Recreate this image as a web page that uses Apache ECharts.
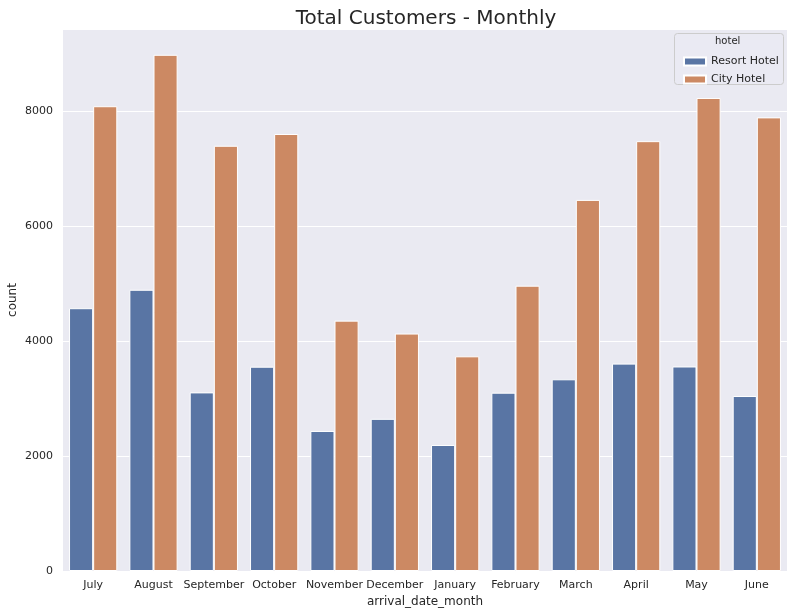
<!DOCTYPE html>
<html>
<head>
<meta charset="utf-8">
<script src="https://cdn.jsdelivr.net/npm/echarts@6/dist/echarts.min.js"></script>
<style>html,body{margin:0;padding:0;background:#fff}#c{width:794px;height:615px}</style>
</head>
<body>
<div id="c"></div>
<script>
var months = ["July","August","September","October","November","December","January","February","March","April","May","June"];
var resortHotel = [4573,4894,3108,3555,2437,2648,2193,3103,3336,3609,3559,3045];
var cityHotel = [8088,8983,7400,7605,4357,4132,3736,4965,6458,7480,8232,7894];
var yTicks = [0,2000,4000,6000,8000];

var chart = echarts.init(document.getElementById('c'), null, {renderer:'canvas'});
var font = 'DejaVu Sans';
chart.setOption({
  animation:false,
  backgroundColor:'#ffffff',
  title:{text:'Total Customers - Monthly', left:421, textAlign:'center', top:4,
    textStyle:{fontFamily:font, fontSize:20, fontWeight:'normal', color:'#262626'}},
  grid:{left:63, right:7, top:29, bottom:44, show:true, backgroundColor:'#eaeaf2', borderWidth:0,
    containLabel:false, outerBoundsMode:'none'},
  legend:{orient:'vertical', left:678, top:51, itemWidth:22, itemHeight:8, itemGap:7,
    icon:'rect', data:['Resort Hotel','City Hotel'],
    textStyle:{fontFamily:font, fontSize:11, color:'#262626'}},
  graphic:[
    {type:'rect', left:674, top:33, z:0, shape:{width:109, height:51, r:3},
     style:{fill:'rgba(234,234,242,0.8)', stroke:'#cccccc', lineWidth:1}},
    {type:'text', left:715, top:36, z:1, style:{text:'hotel', font:'10px DejaVu Sans', fill:'#262626'}},
    {type:'text', x:13, y:300, rotation:Math.PI/2, z:1,
     style:{text:'count', font:'12px DejaVu Sans', fill:'#262626', align:'center', verticalAlign:'middle'}}
  ],
  xAxis:{type:'category', data:months, name:'arrival_date_month', nameLocation:'middle', nameGap:23,
    nameTextStyle:{fontFamily:font, fontSize:12, color:'#262626'},
    axisLine:{show:false}, axisTick:{show:false},
    axisLabel:{fontFamily:font, fontSize:11, color:'#262626', margin:9, interval:0}},
  yAxis:{type:'value', min:0, max:9432, interval:2000,
    axisLine:{show:false}, axisTick:{show:false},
    axisLabel:{fontFamily:font, fontSize:11, color:'#262626', margin:10,
      formatter:function(v){return yTicks.indexOf(v)>=0? String(v):'';}},
    splitLine:{lineStyle:{color:'#ffffff', width:1}}},
  series:[
    {name:'Resort Hotel', type:'bar', data:resortHotel, barGap:'0%', barCategoryGap:'20%',
     itemStyle:{color:'#5975a4', borderColor:'#ffffff', borderWidth:1}},
    {name:'City Hotel', type:'bar', data:cityHotel,
     itemStyle:{color:'#cc8963', borderColor:'#ffffff', borderWidth:1}}
  ]
});
</script>
</body>
</html>
